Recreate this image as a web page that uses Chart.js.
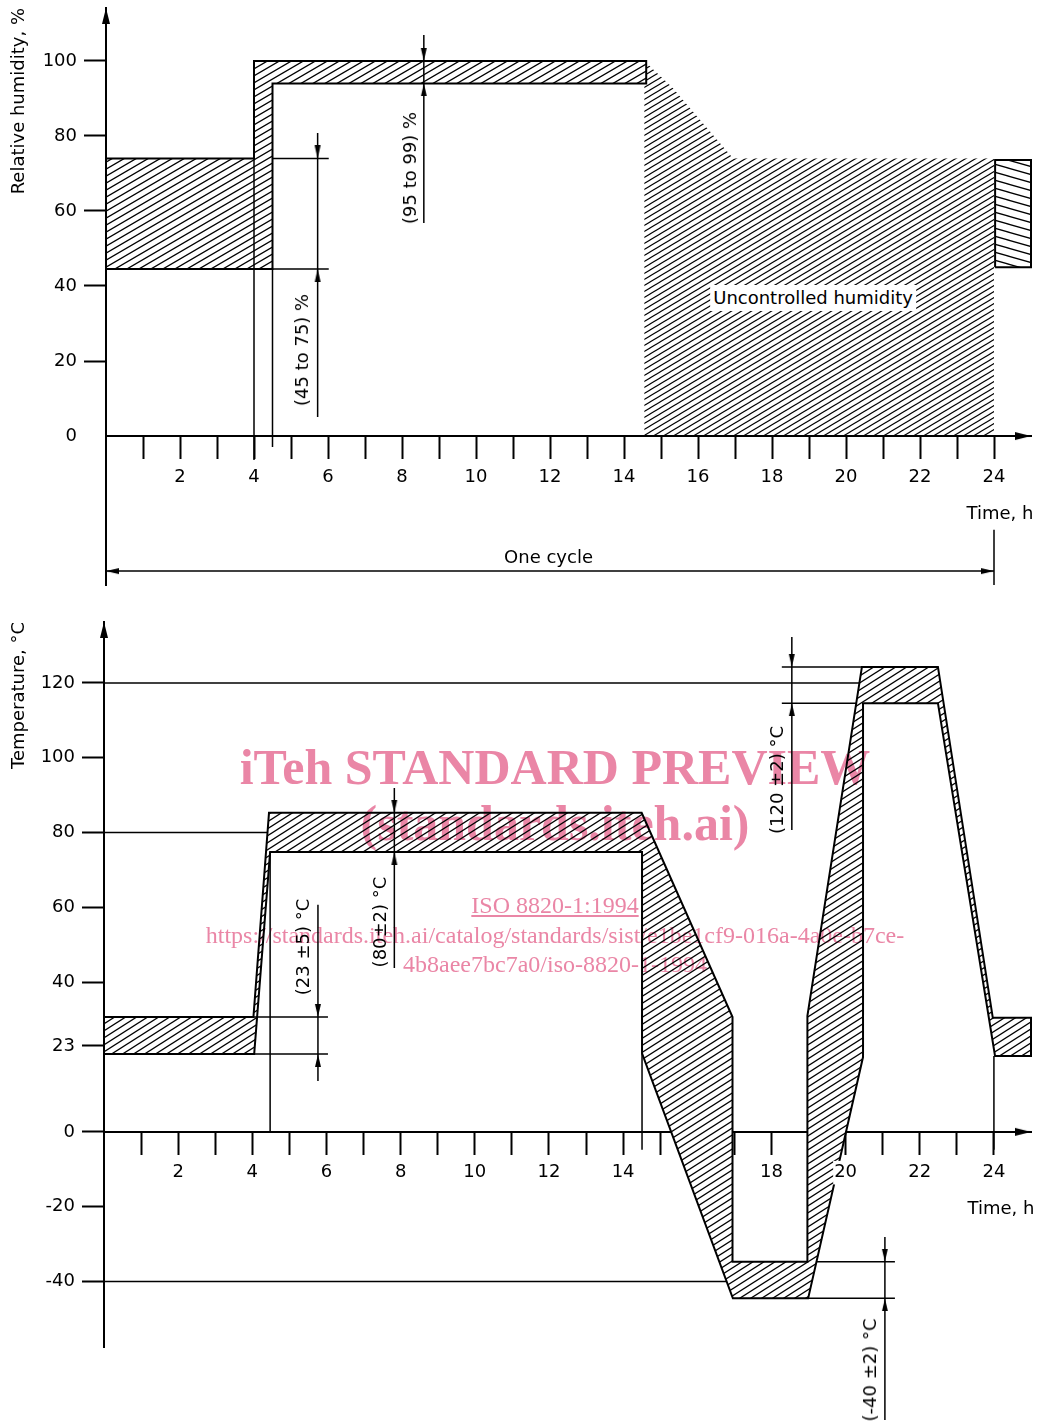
<!DOCTYPE html>
<html>
<head>
<meta charset="utf-8">
<script src="https://cdn.jsdelivr.net/npm/chart.js@4.4.1/dist/chart.umd.min.js"></script>
<style>
  body { margin: 0; background: #fff; }
  #page { position: relative; width: 1038px; height: 1425px; overflow: hidden; background: #fff; }
  canvas { position: absolute; left: 0; }
  .note { position: absolute; transform: translate(-50%, -50%); white-space: nowrap; font: 18px 'DejaVu Sans', sans-serif; color: #000; line-height: 1; }
  .note.rot { transform: translate(-50%, -50%) rotate(-90deg); }
  .note.boxed { background: #fff; padding: 4px 3px; }
  .wm { position: absolute; left: 0; width: 1110px; text-align: center; color: #ea86a6; font-family: 'Liberation Serif', 'Times New Roman', serif; line-height: 1; white-space: nowrap; mix-blend-mode: multiply; }
  .wm.big { font-size: 50px; font-weight: bold; }
  .wm.small { font-size: 24px; }
</style>
</head>
<body>
<div id="page">
  <canvas id="rh" width="1038" height="600" style="top:0"></canvas>
  <canvas id="temp" width="1038" height="825" style="top:600px"></canvas>
  <div class="wm big" style="top:742px">iTeh STANDARD PREVIEW</div>
  <div class="wm big" style="top:798px">(standards.iteh.ai)</div>
  <div class="wm small" style="top:893px"><u>ISO 8820-1:1994</u></div>
  <div class="wm small" style="top:923px">https://standards.iteh.ai/catalog/standards/sist/e1be1cf9-016a-4a0e-b7ce-</div>
  <div class="wm small" style="top:952px">4b8aee7bc7a0/iso-8820-1-1994</div>
</div>
<script>
// time axis (hours)
const hourTicks = [1, 2, 3, 4, 5, 6, 7, 8, 9, 10, 11, 12, 13, 14, 15, 16, 17, 18, 19, 20, 21, 22, 23, 24];
const rhLabelHours = [2, 4, 6, 8, 10, 12, 14, 16, 18, 20, 22, 24];
const tempLabelHours = [2, 4, 6, 8, 10, 12, 14, 18, 20, 22, 24];
const rhTicks = [0, 20, 40, 60, 80, 100];
const tempTicks = [-40, -20, 0, 23, 40, 60, 80, 100, 120];

// relative humidity, controlled part: upper and lower limit
const rhHighT = [0, 4, 4, 14.6];
const rhHigh = [74, 74, 100, 100];
const rhLowT = [0, 4.5, 4.5, 14.6];
const rhLow = [44.5, 44.5, 94, 94];
// uncontrolled humidity
const rhFreeT = [14.55, 14.55, 15.3, 16.95, 24, 24];
const rhFree = [0, 100, 93, 74, 74, 0];
// start of the next cycle
const rhNextT = [24.03, 25];
const rhNext = [45, 73.6];

// temperature: upper and lower limit
const tHighT = [0, 4.03, 4.45, 14.5, 16.95, 16.95, 18.97, 18.97, 20.44, 22.49, 23.97, 25];
const tHigh = [30.7, 30.7, 85.3, 85.3, 30.7, -34.7, -34.7, 31, 124.3, 124.3, 30.5, 30.5];
const tLowT = [0, 4.05, 4.48, 14.51, 14.51, 16.96, 18.99, 20.47, 20.47, 22.49, 24.03, 25];
const tLow = [20.8, 20.8, 74.8, 74.8, 21, -44.5, -44.5, 20, 114.6, 114.6, 20.3, 20.3];

// guide and dimension lines [x1, y1, x2, y2]
const rhGuides = [
  [4, 74, 4, -6.4], [4.5, 44.5, 4.5, -2.9],
  [4.5, 74, 6.02, 74], [4.5, 44.5, 6.02, 44.5],
  [5.72, 80.8, 5.72, 5.1], [8.59, 106.9, 8.59, 56.8],
  [0, -36, 24, -36], [24, -25, 24, -39.7]
];
const rhArrows = [[5.72, 74, 180], [5.72, 44.5, 0], [8.59, 100, 180], [8.59, 94, 0], [0, -36, 270], [24, -36, 90]];

const tGuides = [
  [0, 120, 20.37, 120], [0, 80, 4.41, 80], [0, -40, 16.79, -40],
  [4.48, 74.8, 4.48, 0], [14.51, 21, 14.51, -4.8], [24, 20.3, 24, -4.8],
  [4.03, 30.7, 6.04, 30.7], [4.05, 20.8, 6.04, 20.8], [5.77, 60.7, 5.77, 13.6],
  [7.83, 91.9, 7.83, 43.8],
  [18.28, 124.3, 20.44, 124.3], [18.28, 114.6, 20.29, 114.6], [18.55, 132.3, 18.55, 80.7],
  [19.2, -34.7, 21.33, -34.7], [18.99, -44.5, 21.33, -44.5], [21.06, -28.1, 21.06, -77]
];
const tArrows = [[5.77, 30.7, 180], [5.77, 20.8, 0], [7.83, 85.3, 180], [7.83, 74.8, 0],
  [18.55, 124.3, 180], [18.55, 114.6, 0], [21.06, -34.7, 180], [21.06, -44.5, 0]];

const rhNotes = [
  [5.29, 22.9, '(45 to 75) %', 'rot'], [8.21, 71.5, '(95 to 99) %', 'rot'],
  [19.11, 36.8, 'Uncontrolled humidity', 'boxed'], [24.16, -20.5, 'Time, h', ''], [11.96, -32.3, 'One cycle', '']
];
const tNotes = [
  [5.37, 49.4, '(23 ±5) °C', 'rot'], [7.44, 56.1, '(80±2) °C', 'rot'],
  [18.15, 94.1, '(120 ±2) °C', 'rot'], [20.66, -63.6, '(-40 ±2) °C', 'rot'], [24.19, -20.3, 'Time, h', '']
];

Chart.defaults.font.family = "'DejaVu Sans', sans-serif";
Chart.defaults.font.size = 18;
Chart.defaults.color = '#000';

const pts = (xs, ys) => xs.map((x, i) => ({ x: x, y: ys[i] }));
function ring(hx, hy, lx, ly) {
  const p = pts(hx, hy).concat(pts(lx, ly).reverse());
  p.push(p[0]);
  return p;
}
function box(xs, ys) {
  return [{ x: xs[0], y: ys[0] }, { x: xs[1], y: ys[0] }, { x: xs[1], y: ys[1] }, { x: xs[0], y: ys[1] }, { x: xs[0], y: ys[0] }];
}

function hatch(ctx, w, h, lw, back) {
  const c = document.createElement('canvas');
  c.width = w; c.height = h;
  const g = c.getContext('2d');
  g.fillStyle = '#fff';
  g.fillRect(0, 0, w, h);
  g.strokeStyle = '#000';
  g.lineWidth = lw;
  for (let k = -1; k <= 1; k++) {
    g.beginPath();
    if (back) { g.moveTo(-w, -h + k * h); g.lineTo(2 * w, 2 * h + k * h); }
    else { g.moveTo(-w, 2 * h + k * h); g.lineTo(2 * w, -h + k * h); }
    g.stroke();
  }
  return ctx.createPattern(c, 'repeat');
}

function arrowHead(len, half) {
  const c = document.createElement('canvas');
  c.width = half * 2 + 2; c.height = len * 2;
  const g = c.getContext('2d');
  g.fillStyle = '#000';
  g.beginPath();
  g.moveTo(c.width / 2, len);
  g.lineTo(c.width / 2 - half, 2 * len);
  g.lineTo(c.width / 2 + half, 2 * len);
  g.closePath();
  g.fill();
  return c;
}
const smallArrow = arrowHead(13, 3);
const bigArrow = arrowHead(16, 4);

function shape(data, pattern, bw, order) {
  return { data: data, fill: 'shape', backgroundColor: pattern, borderColor: '#000', borderWidth: bw,
    pointRadius: 0, tension: 0, clip: false, order: order };
}
function guides(list) {
  return list.map(g => ({ data: [{ x: g[0], y: g[1] }, { x: g[2], y: g[3] }], borderColor: '#000', borderWidth: 1.5,
    pointRadius: 0, fill: false, clip: false, order: 5 }));
}
function arrows(list, img) {
  return { data: list.map(a => ({ x: a[0], y: a[1] })), showLine: false, pointStyle: img, pointRadius: 6,
    pointRotation: list.map(a => a[2]), clip: false, order: 0 };
}

function makeChart(id, cfg) {
  return new Chart(document.getElementById(id), {
    type: 'line',
    data: { datasets: cfg.datasets },
    options: {
      responsive: false,
      animation: false,
      events: [],
      layout: { padding: cfg.padding },
      plugins: { legend: { display: false }, tooltip: { enabled: false } },
      scales: {
        x: {
          type: 'linear', min: 0, max: 25, position: { y: 0 },
          afterFit: s => { s.height = 0; s.paddingLeft = 0; s.paddingRight = 0; },
          afterBuildTicks: s => { s.ticks = hourTicks.map(v => ({ value: v })); },
          ticks: {
            autoSkip: false, maxRotation: 0, minRotation: 0, padding: 8, z: cfg.labelZ,
            callback: v => cfg.labelHours.includes(v) ? String(v) : '',
            showLabelBackdrop: c => cfg.labelHours.includes(c.tick.value),
            backdropColor: '#fff', backdropPadding: 1
          },
          grid: { drawOnChartArea: false, drawTicks: true, tickLength: 22, tickWidth: 2, tickColor: '#000' },
          border: { display: true, color: '#000', width: 2, z: cfg.borderZ }
        },
        y: {
          type: 'linear', min: cfg.yMin, max: cfg.yMax,
          afterFit: s => { s.width = cfg.yWidth; s.paddingTop = 0; s.paddingBottom = 0; },
          afterBuildTicks: s => { s.ticks = cfg.yTicks.map(v => ({ value: v })); },
          ticks: { padding: 7, callback: v => String(v) },
          grid: { drawOnChartArea: false, drawTicks: true, tickLength: 22, tickWidth: 2,
            tickColor: c => (c.tick && c.tick.value === 0 && cfg.hideZero) ? 'rgba(0,0,0,0)' : '#000' },
          border: { display: true, color: '#000', width: 2 },
          title: { display: true, text: cfg.yTitle, align: 'end', padding: { top: 9, bottom: 0 }, font: { size: 18 } }
        }
      }
    }
  });
}

const rhCtx = document.getElementById('rh').getContext('2d');
const tCtx = document.getElementById('temp').getContext('2d');

const rhChart = makeChart('rh', {
  padding: { left: 0, top: 8, right: 6, bottom: 15 },
  yMin: -39.7, yMax: 114.1, yWidth: 106, yTicks: rhTicks, yTitle: 'Relative humidity, %',
  labelHours: rhLabelHours, labelZ: 0, borderZ: 1, hideZero: true,
  datasets: [
    arrows(rhArrows, smallArrow),
    arrows([[0, 114.1, 0], [25, 0, 90]], bigArrow),
    ...guides(rhGuides),
    shape(ring(rhHighT, rhHigh, rhLowT, rhLow), hatch(rhCtx, 12, 7, 1.3, false), 2, 8),
    shape(box(rhNextT, rhNext), hatch(rhCtx, 28, 8, 1.3, true), 2, 8),
    shape(pts(rhFreeT, rhFree).concat([{ x: rhFreeT[0], y: rhFree[0] }]), hatch(rhCtx, 10, 6, 1.1, false), 0, 9)
  ]
});

const tChart = makeChart('temp', {
  padding: { left: 0, top: 22, right: 6, bottom: 78 },
  yMin: -57.5, yMax: 136.3, yWidth: 104, yTicks: tempTicks, yTitle: 'Temperature, °C',
  labelHours: tempLabelHours, labelZ: 1, borderZ: 0, hideZero: false,
  datasets: [
    arrows(tArrows, smallArrow),
    arrows([[0, 136.3, 0], [25, 0, 90]], bigArrow),
    ...guides(tGuides),
    shape(ring(tHighT, tHigh, tLowT, tLow), hatch(tCtx, 11, 7, 1.3, false), 2, 8)
  ]
});

const page = document.getElementById('page');
function addNotes(chart, top, list) {
  list.forEach(n => {
    const d = document.createElement('div');
    d.className = 'note ' + n[3];
    d.textContent = n[2];
    d.style.left = chart.scales.x.getPixelForValue(n[0]) + 'px';
    d.style.top = (top + chart.scales.y.getPixelForValue(n[1])) + 'px';
    page.appendChild(d);
  });
}
addNotes(rhChart, 0, rhNotes);
addNotes(tChart, 600, tNotes);
</script>
</body>
</html>
